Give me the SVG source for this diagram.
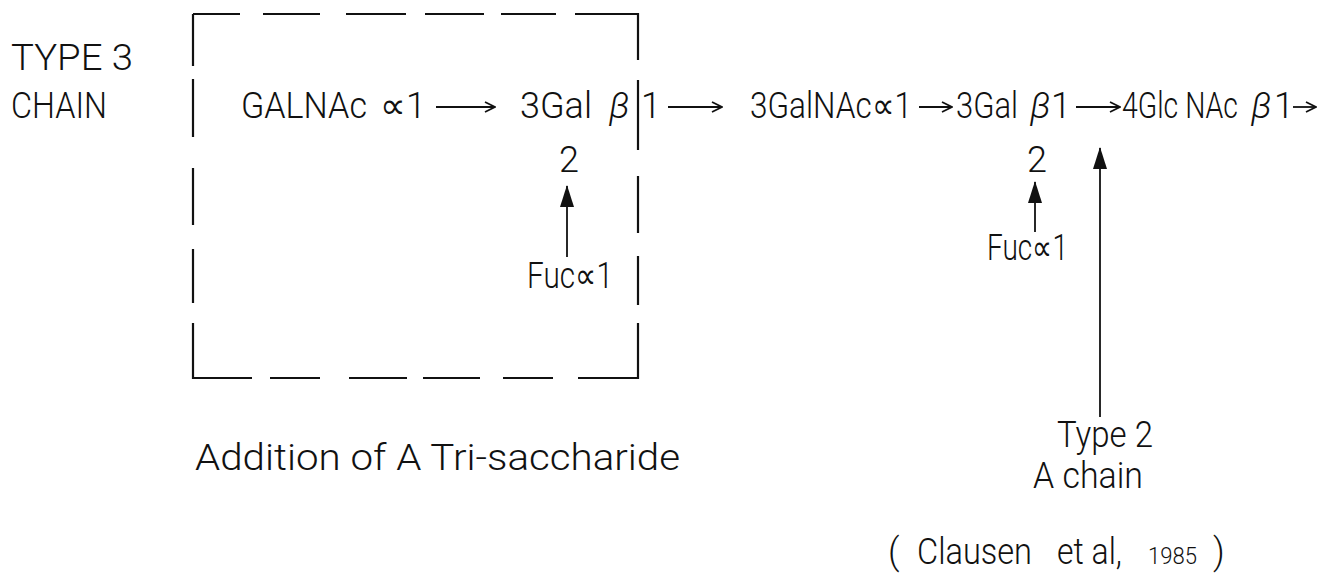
<svg xmlns="http://www.w3.org/2000/svg" width="1321" height="579" viewBox="0 0 1321 579">
<defs>
<style>
text{font-family:Roboto,"Liberation Sans","DejaVu Sans",sans-serif;font-weight:300;fill:#111;}
.t{font-size:36px;}
.it{font-style:italic;}
.ln{stroke:#111;stroke-width:1.8;fill:none;}
.box{stroke:#111;stroke-width:2.2;fill:none;}
</style>
<marker id="open" viewBox="0 0 12 12" refX="11" refY="6" markerWidth="12" markerHeight="12" markerUnits="userSpaceOnUse" orient="auto">
<path d="M1,1 L11,6 L1,11" fill="none" stroke="#111" stroke-width="1.8"/>
</marker>
<marker id="fill" viewBox="0 0 22 14" refX="21" refY="7" markerWidth="22" markerHeight="14" markerUnits="userSpaceOnUse" orient="auto">
<path d="M0,0 L22,7 L0,14 Z" fill="#111"/>
</marker>
</defs>

<g id="label-type3">
<text class="t" x="11" y="70" textLength="122" lengthAdjust="spacingAndGlyphs">TYPE 3</text>
<text class="t" x="11" y="118" textLength="96" lengthAdjust="spacingAndGlyphs">CHAIN</text>
</g>

<g id="dashed-box">
<path class="box" d="M193,14 H240 M263,14 H320 M346,14 H406 M425,14 H484 M501,14 H556 M575,14 H638 V60 M638,80 V150 M638,176 V233 M638,256 V305 M638,323 V378 H578 M553,378 H503 M480,378 H423 M407,378 H349 M320,378 H270 M252,378 H193 V323 M193,303 V249 M193,225 V168 M193,137 V79 M193,66 V14"/>
</g>

<g id="chain-text">
<text class="t" x="241" y="118" textLength="126" lengthAdjust="spacingAndGlyphs">GALNAc</text>
<text class="t" x="380" y="118" textLength="46" lengthAdjust="spacingAndGlyphs">∝1</text>
<text class="t" x="520" y="118" textLength="72" lengthAdjust="spacingAndGlyphs">3Gal</text>
<text class="t it" x="609" y="118">β</text>
<text class="t" x="641" y="118">1</text>
<text class="t" x="750" y="118" textLength="162" lengthAdjust="spacingAndGlyphs">3GalNAc∝1</text>
<text class="t" x="956" y="118" textLength="62" lengthAdjust="spacingAndGlyphs">3Gal</text>
<text class="t it" x="1030" y="118">β</text>
<text class="t" x="1051" y="118">1</text>
<text class="t" x="1122" y="118" textLength="116" lengthAdjust="spacingAndGlyphs">4Glc NAc</text>
<text class="t it" x="1251" y="118">β</text>
<text class="t" x="1274" y="118">1</text>
</g>

<g id="fuc-left">
<text class="t" x="559" y="172">2</text>
<text class="t" x="527" y="288" textLength="86" lengthAdjust="spacingAndGlyphs">Fuc∝1</text>
</g>

<g id="fuc-right">
<text class="t" x="1027" y="172">2</text>
<text class="t" x="987" y="260" textLength="81" lengthAdjust="spacingAndGlyphs">Fuc∝1</text>
</g>

<g id="type2">
<text class="t" x="1057" y="447" textLength="96" lengthAdjust="spacingAndGlyphs">Type 2</text>
<text class="t" x="1033" y="488" textLength="110" lengthAdjust="spacingAndGlyphs">A chain</text>
</g>

<g id="caption">
<text class="t" x="195" y="470" textLength="485" lengthAdjust="spacingAndGlyphs">Addition  of  A  Tri-saccharide</text>
</g>

<g id="reference">
<text class="t" x="888" y="564">(</text>
<text class="t" x="917" y="564" textLength="115" lengthAdjust="spacingAndGlyphs">Clausen</text>
<text class="t" x="1057" y="564" textLength="65" lengthAdjust="spacingAndGlyphs">et al,</text>
<text x="1148" y="564" font-size="24" textLength="49" lengthAdjust="spacingAndGlyphs">1985</text>
<text class="t" x="1213" y="564">)</text>
</g>

<g id="connectors">
<line class="ln" x1="436" y1="107" x2="495" y2="107" marker-end="url(#open)"/>
<line class="ln" x1="668" y1="107" x2="722" y2="107" marker-end="url(#open)"/>
<line class="ln" x1="919" y1="107" x2="952" y2="107" marker-end="url(#open)"/>
<line class="ln" x1="1076" y1="107" x2="1120" y2="107" marker-end="url(#open)"/>
<line class="ln" x1="1293" y1="107" x2="1316" y2="107" marker-end="url(#open)"/>
<line class="ln" x1="567" y1="257" x2="567" y2="186" marker-end="url(#fill)"/>
<line class="ln" x1="1035" y1="232" x2="1035" y2="182" marker-end="url(#fill)"/>
<line class="ln" x1="1100" y1="417" x2="1100" y2="148" marker-end="url(#fill)"/>
</g>
</svg>
